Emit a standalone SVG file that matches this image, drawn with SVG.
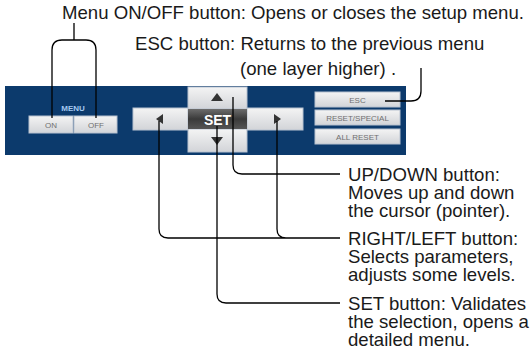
<svg xmlns="http://www.w3.org/2000/svg" width="530" height="349" viewBox="0 0 530 349">
<defs>
<linearGradient id="gBtn" x1="0" y1="0" x2="0" y2="1">
<stop offset="0" stop-color="#f4f4f4"/>
<stop offset="1" stop-color="#d2d4d8"/>
</linearGradient>
<linearGradient id="gSet" x1="0" y1="0" x2="0" y2="1">
<stop offset="0" stop-color="#6c6c6c"/>
<stop offset="0.5" stop-color="#3a3a3a"/>
<stop offset="1" stop-color="#555"/>
</linearGradient>
<style>
.lbl{font-family:"Liberation Sans",Arial,sans-serif;font-size:18.6px;fill:#1a1a1a}
.btn{fill:url(#gBtn);stroke:#b8c2d0;stroke-width:1}
.bt{font-family:"Liberation Sans",Arial,sans-serif;font-size:8px;fill:#707070;text-anchor:middle}
.arw{fill:#333}
.con{fill:none;stroke:#000;stroke-width:1.3}
</style>
</defs>
<g id="panel">
<rect x="5" y="86" width="401" height="69" fill="#0c3a6c"/>
</g>
<g id="menu-buttons">
<text x="73" y="111" font-family="Liberation Sans,Arial,sans-serif" font-size="8" font-weight="bold" fill="#a4c8f0" text-anchor="middle">MENU</text>
<rect class="btn" x="29" y="116" width="44" height="17"/>
<text class="bt" x="51" y="127.5">ON</text>
<rect class="btn" x="74" y="116" width="43" height="17"/>
<text class="bt" x="96" y="127.5">OFF</text>
</g>
<g id="cursor-pad">
<rect class="btn" x="188" y="87" width="59" height="22"/>
<rect class="btn" x="188" y="129" width="59" height="23"/>
<rect class="btn" x="133" y="108" width="55" height="22"/>
<rect class="btn" x="247" y="108" width="56" height="22"/>
<rect x="188" y="109" width="59" height="20" fill="url(#gSet)"/>
<text x="217.5" y="124.5" font-family="Liberation Sans,Arial,sans-serif" font-size="14" font-weight="bold" fill="#fff" text-anchor="middle">SET</text>
<polygon class="arw" points="211,101 223,101 217,93"/>
<polygon class="arw" points="211,137 223,137 217,145"/>
<polygon class="arw" points="156,119 163,114 163,124"/>
<polygon class="arw" points="281,119 274,114 274,124"/>
</g>
<g id="right-buttons">
<rect class="btn" x="315" y="92" width="85" height="15"/>
<text class="bt" x="357.5" y="102.5">ESC</text>
<rect class="btn" x="315" y="110" width="85" height="15"/>
<text class="bt" x="357.5" y="120.5">RESET/SPECIAL</text>
<rect class="btn" x="315" y="129" width="85" height="15"/>
<text class="bt" x="357.5" y="139.5">ALL RESET</text>
</g>
<g id="labels">
<text class="lbl" x="62" y="19">Menu ON/OFF button: Opens or closes the setup menu.</text>
<text class="lbl" x="135" y="50">ESC button: Returns to the previous menu</text>
<text class="lbl" x="240" y="75">(one layer higher) .</text>
<text class="lbl" x="348" y="181">UP/DOWN button:</text>
<text class="lbl" x="348" y="199">Moves up and down</text>
<text class="lbl" x="348" y="217">the cursor (pointer).</text>
<text class="lbl" x="348" y="245">RIGHT/LEFT button:</text>
<text class="lbl" x="348" y="263">Selects parameters,</text>
<text class="lbl" x="348" y="281">adjusts some levels.</text>
<text class="lbl" x="348" y="310">SET button: Validates</text>
<text class="lbl" x="348" y="328">the selection, opens a</text>
<text class="lbl" x="348" y="346">detailed menu.</text>
</g>
<g id="connectors">
<path class="con" d="M74,23 V40 M52,118 V50 Q52,40 62,40 H86 Q96,40 96,50 V118"/>
<path class="con" d="M421,68 V91 Q421,101 411,101 H385"/>
<path class="con" d="M233,97 V165 Q233,174 242,174 H340"/>
<path class="con" d="M159,121 V229 Q159,238 168,238 H340 M277,121 V229 Q277,238 286,238"/>
<path class="con" d="M217,126 V294 Q217,303 226,303 H340"/>
</g>
</svg>
